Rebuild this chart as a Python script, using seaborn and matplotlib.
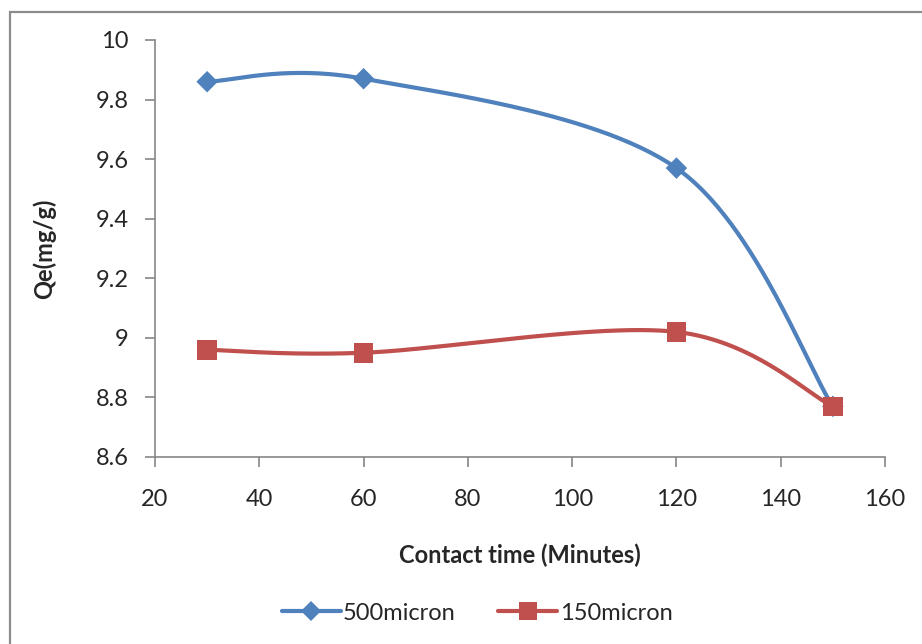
import numpy as np
import pandas as pd
import matplotlib
matplotlib.use("Agg")
import matplotlib.pyplot as plt
from matplotlib.patches import Rectangle
from matplotlib.lines import Line2D
import seaborn as sns

# Contact time (minutes) and adsorption capacity Qe (mg/g) for two particle sizes
contact_time = [30, 60, 120, 150]
qe_500micron = [9.86, 9.87, 9.57, 8.77]
qe_150micron = [8.96, 8.95, 9.02, 8.77]
series_names = ["500micron", "150micron"]
x_ticks = [20, 40, 60, 80, 100, 120, 140, 160]
y_ticks = [8.6, 8.8, 9.0, 9.2, 9.4, 9.6, 9.8, 10.0]
y_tick_labels = ["8.6", "8.8", "9", "9.2", "9.4", "9.6", "9.8", "10"]

BLUE = "#4F81BD"
RED = "#C0504D"
AXIS_GREY = "#868686"


def smooth_curve(xs, ys, n=60):
    """Catmull-Rom style smoothing through the points (cubic Bezier segments)."""
    pts = np.column_stack([xs, ys]).astype(float)
    out = []
    m = len(pts)
    for i in range(m - 1):
        p0 = pts[i - 1] if i > 0 else pts[i]
        p1 = pts[i]
        p2 = pts[i + 1]
        p3 = pts[i + 2] if i + 2 < m else pts[i + 1]
        c1 = p1 + (p2 - p0) / 6.0
        c2 = p2 - (p3 - p1) / 6.0
        t = np.linspace(0, 1, n)[:, None]
        seg = ((1 - t) ** 3) * p1 + 3 * ((1 - t) ** 2) * t * c1 + 3 * (1 - t) * t ** 2 * c2 + t ** 3 * p2
        out.append(seg if i == 0 else seg[1:])
    return np.vstack(out)


sns.set_theme(style="white")
plt.rcParams["font.family"] = ["Lato", "DejaVu Sans"]

FS = 17

fig = plt.figure(figsize=(9.22, 6.44), dpi=100)
ax = fig.add_axes([155 / 922, 1 - 457 / 644, (885 - 155) / 922, (457 - 40) / 644])

# outer chart frame
fig.patches.append(Rectangle((9.5 / 922, -0.05), 1.2, 1 - 11.5 / 644 + 0.05,
                             transform=fig.transFigure, fill=False,
                             edgecolor="#8C8C8C", linewidth=1.6, zorder=0))

points = pd.DataFrame({
    "time": contact_time * 2,
    "qe": qe_500micron + qe_150micron,
    "series": [series_names[0]] * 4 + [series_names[1]] * 4,
})

curves = []
for name, ys in zip(series_names, [qe_500micron, qe_150micron]):
    c = smooth_curve(contact_time, ys)
    curves.append(pd.DataFrame({"time": c[:, 0], "qe": c[:, 1], "series": name}))
curves = pd.concat(curves, ignore_index=True)

palette = {series_names[0]: BLUE, series_names[1]: RED}
sns.lineplot(data=curves, x="time", y="qe", hue="series", palette=palette,
             sort=False, estimator=None, units="series", linewidth=3.0,
             legend=False, ax=ax, zorder=2)
sns.scatterplot(data=points, x="time", y="qe", hue="series", style="series",
                size="series", sizes={series_names[0]: 120, series_names[1]: 200},
                markers={series_names[0]: "D", series_names[1]: "s"},
                palette=palette, legend=False, ax=ax, zorder=3, linewidth=0)

ax.set_xlim(20, 160)
ax.set_ylim(8.6, 10.0)
ax.set_xticks(x_ticks)
ax.set_xticklabels([str(v) for v in x_ticks], fontsize=FS)
ax.set_yticks(y_ticks)
ax.set_yticklabels(y_tick_labels, fontsize=FS)
ax.tick_params(axis="both", direction="out", length=7, width=1.2, color=AXIS_GREY,
               bottom=True, left=True)
ax.tick_params(axis="x", pad=16)
ax.tick_params(axis="y", pad=12)
for side in ["top", "right"]:
    ax.spines[side].set_visible(False)
for side in ["left", "bottom"]:
    ax.spines[side].set_color(AXIS_GREY)
    ax.spines[side].set_linewidth(1.2)
ax.grid(False)

ax.set_xlabel("Contact time (Minutes)", fontsize=FS, fontweight="bold", labelpad=24)
ax.set_ylabel("Qe(mg/g)", fontsize=FS, fontweight="bold", labelpad=28)

handles = [
    Line2D([], [], color=BLUE, lw=3, marker="D", markersize=10, markeredgewidth=0),
    Line2D([], [], color=RED, lw=3, marker="s", markersize=13, markeredgewidth=0),
]
fig.legend(handles, series_names, loc="center",
           bbox_to_anchor=(0.5 + 16 / 922, 1 - 613 / 644),
           ncol=2, frameon=False, fontsize=FS, handlelength=2.5, handletextpad=0.1,
           columnspacing=1.8)

fig.savefig("out.png", dpi=100)
